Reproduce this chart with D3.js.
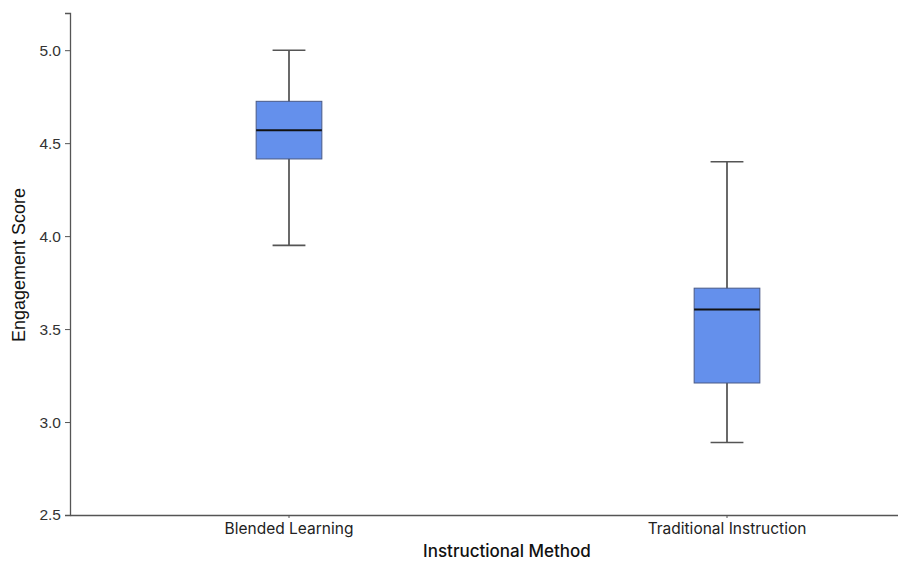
<!DOCTYPE html>
<meta charset="utf-8">
<svg width="898" height="561"></svg>
<script src="https://d3js.org/d3.v7.min.js"></script>
<style>body { margin: 0; background: #fff; } svg { display: block; }</style>
<script>
var categories = ["Blended Learning", "Traditional Instruction"];
var whiskerLow = [3.95, 2.89];
var q1 = [4.415, 3.21];
var median = [4.57, 3.605];
var q3 = [4.725, 3.72];
var whiskerHigh = [5.0, 4.4];
var yTicks = [2.5, 3.0, 3.5, 4.0, 4.5, 5.0];

var data = categories.map(function(c, i) {
  return {name: c, lo: whiskerLow[i], q1: q1[i], med: median[i], q3: q3[i], hi: whiskerHigh[i]};
});

var svg = d3.select("svg"),
    margin = {top: 13, right: -48, bottom: 46, left: 70},
    width = +svg.attr("width") - margin.left - margin.right,
    height = +svg.attr("height") - margin.top - margin.bottom,
    g = svg.append("g").attr("transform", "translate(" + margin.left + "," + margin.top + ")");

var x = d3.scaleBand().domain(categories).range([0, width]);
var y = d3.scaleLinear().domain([2.5, 5.2]).range([height, 0]);

var boxW = x.bandwidth() * 0.15,
    capW = boxW * 0.5;

// y axis
var yAxis = g.append("g")
    .call(d3.axisLeft(y).tickValues(yTicks).tickFormat(d3.format(".1f")).tickSize(5).tickPadding(4));
yAxis.select(".domain").attr("stroke", "#555").attr("stroke-width", 1.3);
yAxis.selectAll(".tick line").attr("stroke", "#555");
yAxis.selectAll("text").attr("fill", "#333").style("font-family", "Liberation Sans, Arial").style("font-size", "15.5px");

// x axis
var xAxis = g.append("g")
    .attr("transform", "translate(0," + height + ")")
    .call(d3.axisBottom(x).tickSize(3).tickSizeOuter(0).tickPadding(5));
xAxis.select(".domain").attr("stroke", "#555").attr("stroke-width", 1.3);
xAxis.selectAll(".tick line").attr("stroke", "#555");
xAxis.selectAll("text").attr("fill", "#222").style("font-family", "Inter").style("font-size", "15.5px");

var box = g.selectAll(".box").data(data).enter().append("g")
    .attr("transform", function(d) { return "translate(" + (x(d.name) + x.bandwidth() / 2) + ",0)"; });

box.append("line")
    .attr("y1", function(d) { return y(d.hi); })
    .attr("y2", function(d) { return y(d.lo); })
    .attr("stroke", "#444").attr("stroke-width", 1.6);

box.selectAll(".cap").data(function(d) { return [d.hi, d.lo]; }).enter().append("line")
    .attr("x1", -capW / 2).attr("x2", capW / 2)
    .attr("y1", function(v) { return y(v); })
    .attr("y2", function(v) { return y(v); })
    .attr("stroke", "#555").attr("stroke-width", 1.6);

box.append("rect")
    .attr("x", -boxW / 2)
    .attr("width", boxW)
    .attr("y", function(d) { return y(d.q3); })
    .attr("height", function(d) { return y(d.q1) - y(d.q3); })
    .attr("fill", "#6490ec")
    .attr("stroke", "#4a5a86").attr("stroke-width", 1);

box.append("line")
    .attr("x1", -boxW / 2).attr("x2", boxW / 2)
    .attr("y1", function(d) { return y(d.med); })
    .attr("y2", function(d) { return y(d.med); })
    .attr("stroke", "#111").attr("stroke-width", 2);

svg.append("text")
    .attr("transform", "translate(19," + 265 + ") rotate(-90)")
    .attr("text-anchor", "middle")
    .attr("dy", "0.35em")
    .attr("fill", "#111")
    .style("font-family", "Liberation Sans, Arial")
    .style("font-size", "18px")
    .text("Engagement Score");

svg.append("text")
    .attr("x", 507)
    .attr("y", 557)
    .attr("text-anchor", "middle")
    .attr("fill", "#111")
    .style("font-family", "Inter")
    .style("font-weight", 500)
    .style("font-size", "17px")
    .text("Instructional Method");
</script>
